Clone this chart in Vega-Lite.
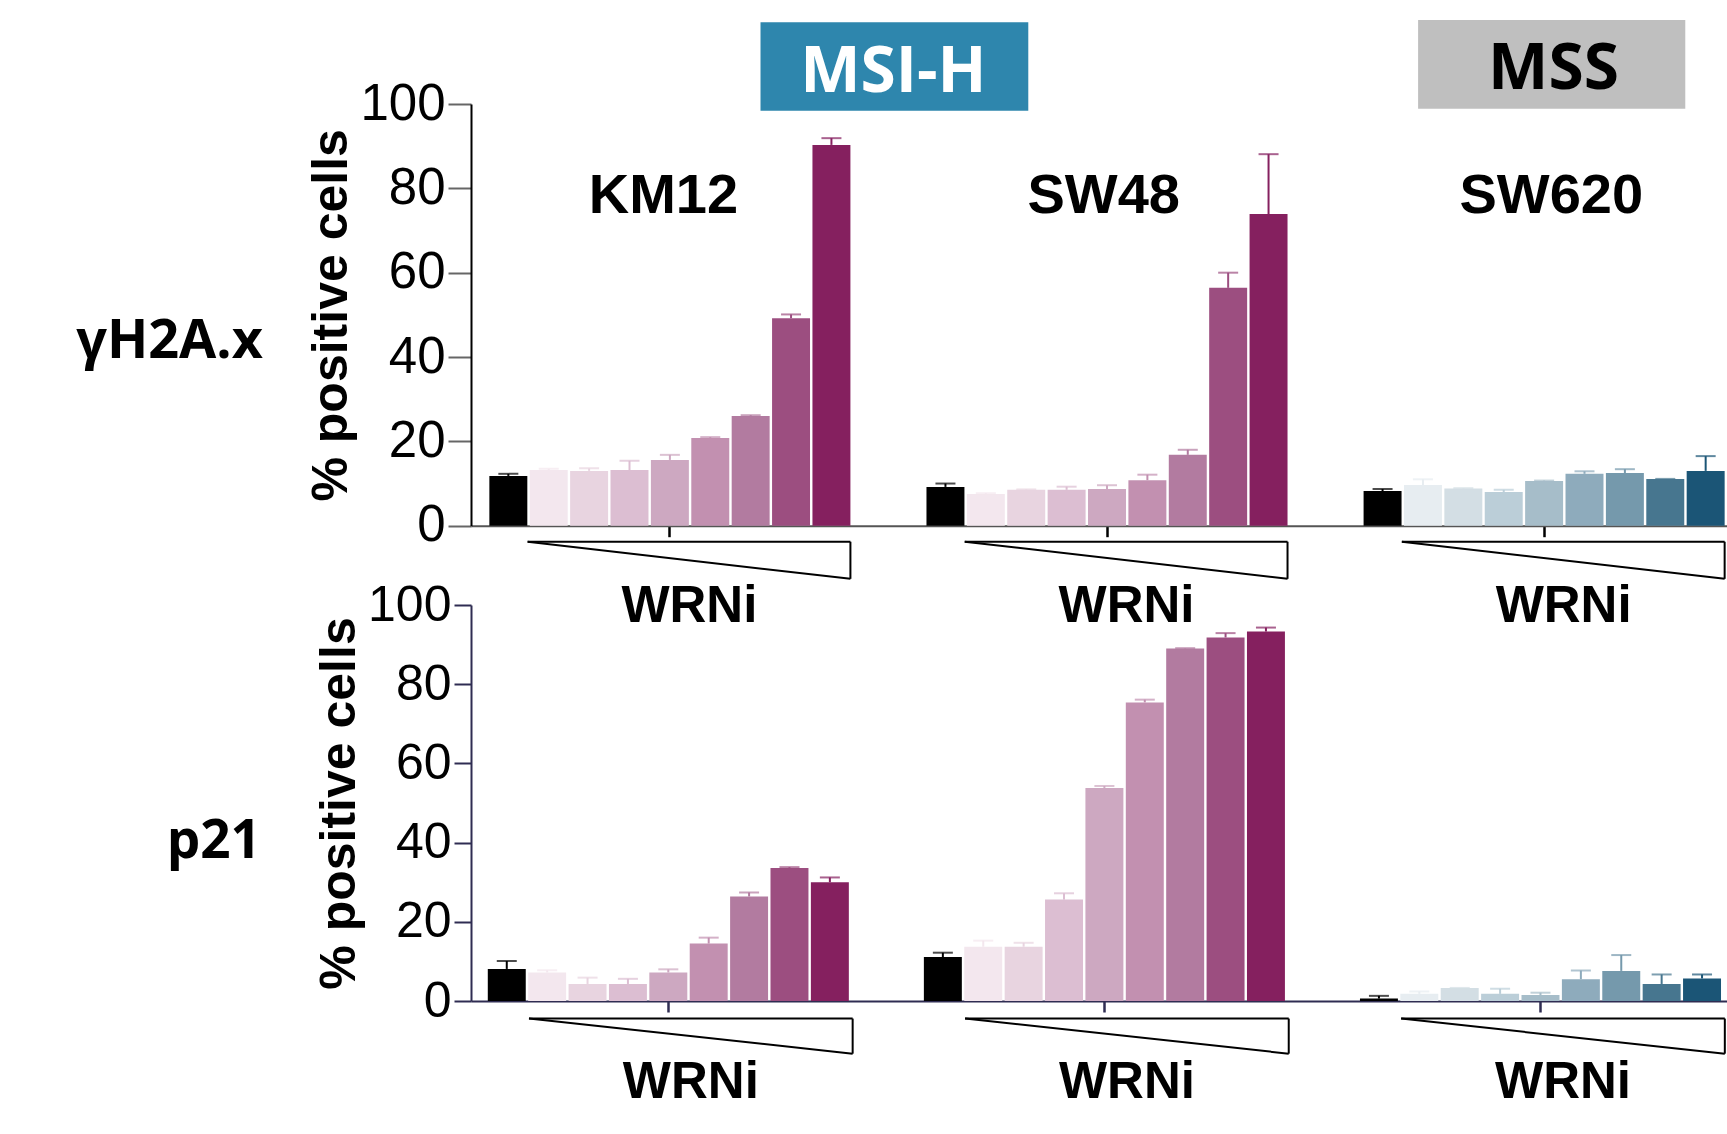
{
  "$schema": "https://vega.github.io/schema/vega-lite/v6.json",
  "background": "white",
  "padding": {"left": 76, "top": 20, "right": 0, "bottom": 0},
  "bounds": "flush",
  "spacing": 79,
  "config": {"view": {"stroke": null}, "axis": {"grid": false}},
  "datasets": {
    "groups": [
      {"line": "KM12", "status": "MSI-H"},
      {"line": "SW48", "status": "MSI-H"},
      {"line": "SW620", "status": "MSS"}
    ],
    "vals": [
      {"marker": "γH2A.x", "line": "KM12", "status": "MSI-H", "dose": "ctrl", "mean": 11.8, "upper": 12.3},
      {"marker": "γH2A.x", "line": "KM12", "status": "MSI-H", "dose": "d1", "mean": 13.2, "upper": 13.5},
      {"marker": "γH2A.x", "line": "KM12", "status": "MSI-H", "dose": "d2", "mean": 13.0, "upper": 13.6},
      {"marker": "γH2A.x", "line": "KM12", "status": "MSI-H", "dose": "d3", "mean": 13.2, "upper": 15.4},
      {"marker": "γH2A.x", "line": "KM12", "status": "MSI-H", "dose": "d4", "mean": 15.6, "upper": 16.8},
      {"marker": "γH2A.x", "line": "KM12", "status": "MSI-H", "dose": "d5", "mean": 20.8, "upper": 21.0},
      {"marker": "γH2A.x", "line": "KM12", "status": "MSI-H", "dose": "d6", "mean": 26.0, "upper": 26.2},
      {"marker": "γH2A.x", "line": "KM12", "status": "MSI-H", "dose": "d7", "mean": 49.2, "upper": 50.1},
      {"marker": "γH2A.x", "line": "KM12", "status": "MSI-H", "dose": "d8", "mean": 90.3, "upper": 91.9},
      {"marker": "γH2A.x", "line": "SW48", "status": "MSI-H", "dose": "ctrl", "mean": 9.2, "upper": 10.0},
      {"marker": "γH2A.x", "line": "SW48", "status": "MSI-H", "dose": "d1", "mean": 7.5, "upper": 7.7},
      {"marker": "γH2A.x", "line": "SW48", "status": "MSI-H", "dose": "d2", "mean": 8.5, "upper": 8.6},
      {"marker": "γH2A.x", "line": "SW48", "status": "MSI-H", "dose": "d3", "mean": 8.5, "upper": 9.25},
      {"marker": "γH2A.x", "line": "SW48", "status": "MSI-H", "dose": "d4", "mean": 8.7, "upper": 9.6},
      {"marker": "γH2A.x", "line": "SW48", "status": "MSI-H", "dose": "d5", "mean": 10.8, "upper": 12.1},
      {"marker": "γH2A.x", "line": "SW48", "status": "MSI-H", "dose": "d6", "mean": 16.8, "upper": 18.0},
      {"marker": "γH2A.x", "line": "SW48", "status": "MSI-H", "dose": "d7", "mean": 56.4, "upper": 60.0},
      {"marker": "γH2A.x", "line": "SW48", "status": "MSI-H", "dose": "d8", "mean": 73.9, "upper": 88.1},
      {"marker": "γH2A.x", "line": "SW620", "status": "MSS", "dose": "ctrl", "mean": 8.2, "upper": 8.7},
      {"marker": "γH2A.x", "line": "SW620", "status": "MSS", "dose": "d1", "mean": 9.65, "upper": 11.0},
      {"marker": "γH2A.x", "line": "SW620", "status": "MSS", "dose": "d2", "mean": 8.8, "upper": 8.9},
      {"marker": "γH2A.x", "line": "SW620", "status": "MSS", "dose": "d3", "mean": 8.0, "upper": 8.5},
      {"marker": "γH2A.x", "line": "SW620", "status": "MSS", "dose": "d4", "mean": 10.6, "upper": 10.7},
      {"marker": "γH2A.x", "line": "SW620", "status": "MSS", "dose": "d5", "mean": 12.3, "upper": 12.9},
      {"marker": "γH2A.x", "line": "SW620", "status": "MSS", "dose": "d6", "mean": 12.5, "upper": 13.4},
      {"marker": "γH2A.x", "line": "SW620", "status": "MSS", "dose": "d7", "mean": 11.1, "upper": 11.1},
      {"marker": "γH2A.x", "line": "SW620", "status": "MSS", "dose": "d8", "mean": 13.0, "upper": 16.5},
      {"marker": "p21", "line": "KM12", "status": "MSI-H", "dose": "ctrl", "mean": 8.1, "upper": 10.1},
      {"marker": "p21", "line": "KM12", "status": "MSI-H", "dose": "d1", "mean": 7.2, "upper": 7.75},
      {"marker": "p21", "line": "KM12", "status": "MSI-H", "dose": "d2", "mean": 4.3, "upper": 5.9},
      {"marker": "p21", "line": "KM12", "status": "MSI-H", "dose": "d3", "mean": 4.3, "upper": 5.6},
      {"marker": "p21", "line": "KM12", "status": "MSI-H", "dose": "d4", "mean": 7.2, "upper": 8.0},
      {"marker": "p21", "line": "KM12", "status": "MSI-H", "dose": "d5", "mean": 14.5, "upper": 16.0},
      {"marker": "p21", "line": "KM12", "status": "MSI-H", "dose": "d6", "mean": 26.4, "upper": 27.4},
      {"marker": "p21", "line": "KM12", "status": "MSI-H", "dose": "d7", "mean": 33.6, "upper": 33.8},
      {"marker": "p21", "line": "KM12", "status": "MSI-H", "dose": "d8", "mean": 30.0, "upper": 31.2},
      {"marker": "p21", "line": "SW48", "status": "MSI-H", "dose": "ctrl", "mean": 11.1, "upper": 12.2},
      {"marker": "p21", "line": "SW48", "status": "MSI-H", "dose": "d1", "mean": 13.7, "upper": 15.25},
      {"marker": "p21", "line": "SW48", "status": "MSI-H", "dose": "d2", "mean": 13.7, "upper": 14.7},
      {"marker": "p21", "line": "SW48", "status": "MSI-H", "dose": "d3", "mean": 25.6, "upper": 27.2},
      {"marker": "p21", "line": "SW48", "status": "MSI-H", "dose": "d4", "mean": 53.8, "upper": 54.3},
      {"marker": "p21", "line": "SW48", "status": "MSI-H", "dose": "d5", "mean": 75.4, "upper": 76.1},
      {"marker": "p21", "line": "SW48", "status": "MSI-H", "dose": "d6", "mean": 89.0, "upper": 89.1},
      {"marker": "p21", "line": "SW48", "status": "MSI-H", "dose": "d7", "mean": 91.8, "upper": 92.9},
      {"marker": "p21", "line": "SW48", "status": "MSI-H", "dose": "d8", "mean": 93.3, "upper": 94.3},
      {"marker": "p21", "line": "SW620", "status": "MSS", "dose": "ctrl", "mean": 0.6, "upper": 1.3},
      {"marker": "p21", "line": "SW620", "status": "MSS", "dose": "d1", "mean": 1.8, "upper": 2.4},
      {"marker": "p21", "line": "SW620", "status": "MSS", "dose": "d2", "mean": 3.3, "upper": 3.3},
      {"marker": "p21", "line": "SW620", "status": "MSS", "dose": "d3", "mean": 1.8, "upper": 3.1},
      {"marker": "p21", "line": "SW620", "status": "MSS", "dose": "d4", "mean": 1.5, "upper": 2.1},
      {"marker": "p21", "line": "SW620", "status": "MSS", "dose": "d5", "mean": 5.5, "upper": 7.7},
      {"marker": "p21", "line": "SW620", "status": "MSS", "dose": "d6", "mean": 7.6, "upper": 11.6},
      {"marker": "p21", "line": "SW620", "status": "MSS", "dose": "d7", "mean": 4.3, "upper": 6.7},
      {"marker": "p21", "line": "SW620", "status": "MSS", "dose": "d8", "mean": 5.7, "upper": 6.7}
    ]
  },
  "vconcat": [
    {
      "width": 1272, "height": 421.7,
      "resolve": {"scale": {"color": "independent"}},
      "layer": [
        {
          "data": {"name": "vals"},
          "transform": [{"filter": "datum.marker === 'γH2A.x' && datum.status === 'MSI-H'"}],
          "encoding": {
            "x": {"field": "line", "type": "nominal", "scale": {"domain": ["KM12","SW48","SW620"], "paddingInner": 0.174, "paddingOuter": 0.042, "round": false},
                  "axis": {"labels": false, "title": null, "domainColor": "#555555", "domainWidth": 2, "tickColor": "black", "tickWidth": 2.5, "tickSize": 11}},
            "xOffset": {"field": "dose", "type": "nominal", "scale": {"domain": ["ctrl","d1","d2","d3","d4","d5","d6","d7","d8"], "paddingInner": 0.06, "paddingOuter": 0, "round": false}},
            "color": {"field": "dose", "type": "nominal", "legend": null, "scale": {"domain": ["ctrl","d1","d2","d3","d4","d5","d6","d7","d8"], "range": ["#000000","#F3E7EE","#E8D4E0","#DCBED2","#CDA8C1","#C290B0","#B27BA0","#9C4E80","#85205F"]}}
          },
          "layer": [
            {"mark": {"type": "bar"},
             "encoding": {"y": {"field": "mean", "type": "quantitative", "scale": {"domain": [0, 100], "nice": false},
                   "axis": {"values": [0,20,40,60,80,100], "title": "% positive cells", "titleFont": "Liberation Sans", "titleFontSize": 50, "titleFontWeight": "bold", "titleColor": "black", "titlePadding": 3,
                            "labelFont": "Liberation Sans", "labelFontSize": 51, "labelColor": "black", "labelPadding": 3, "labelFlush": false, "labelOverlap": false,
                            "domainColor": "black", "domainWidth": 2, "tickColor": "#666666", "tickWidth": 2, "tickSize": 23}}}},
            {"mark": {"type": "rule", "strokeWidth": 2},
             "encoding": {"y": {"field": "mean", "type": "quantitative"}, "y2": {"field": "upper"}}},
            {"mark": {"type": "tick", "thickness": 2, "size": 20},
             "encoding": {"y": {"field": "upper", "type": "quantitative"}}}
          ]
        },
        {
          "data": {"name": "vals"},
          "transform": [{"filter": "datum.marker === 'γH2A.x' && datum.status === 'MSS'"}],
          "encoding": {
            "x": {"field": "line", "type": "nominal"},
            "xOffset": {"field": "dose", "type": "nominal"},
            "color": {"field": "dose", "type": "nominal", "legend": null, "scale": {"domain": ["ctrl","d1","d2","d3","d4","d5","d6","d7","d8"], "range": ["#000000","#E7EDF1","#D3DEE4","#BBCED8","#A6BDC9","#8EABBC","#7599AC","#47768F","#1B5576"]}}
          },
          "layer": [
            {"mark": {"type": "bar"}, "encoding": {"y": {"field": "mean", "type": "quantitative"}}},
            {"mark": {"type": "rule", "strokeWidth": 2},
             "encoding": {"y": {"field": "mean", "type": "quantitative"}, "y2": {"field": "upper"}}},
            {"mark": {"type": "tick", "thickness": 2, "size": 20},
             "encoding": {"y": {"field": "upper", "type": "quantitative"}}}
          ]
        },
        {"data": {"name": "groups"}, "mark": {"type": "rule", "color": "black", "strokeWidth": 2},
         "encoding": {"x": {"field": "line", "type": "nominal", "bandPosition": 0.106}, "x2": {"field": "line", "bandPosition": 1.0}, "y": {"datum": -3.8, "type": "quantitative"}}},
        {"data": {"name": "groups"}, "mark": {"type": "rule", "color": "black", "strokeWidth": 2},
         "encoding": {"x": {"field": "line", "type": "nominal", "bandPosition": 1.0}, "y": {"datum": -3.8, "type": "quantitative"}, "y2": {"datum": -12.6}}},
        {"data": {"name": "groups"}, "mark": {"type": "rule", "color": "black", "strokeWidth": 2},
         "encoding": {"x": {"field": "line", "type": "nominal", "bandPosition": 0.106}, "x2": {"field": "line", "bandPosition": 1.0}, "y": {"datum": -3.8, "type": "quantitative"}, "y2": {"datum": -12.6}}},
        {"data": {"name": "groups"}, "mark": {"type": "text", "text": "WRNi", "font": "Liberation Sans", "fontSize": 51, "fontWeight": "bold", "align": "center", "baseline": "alphabetic", "color": "black"},
         "encoding": {"x": {"field": "line", "type": "nominal", "bandPosition": 0.554}, "y": {"datum": -22.8, "type": "quantitative"}}},
        {"data": {"values": [{}]}, "mark": {"type": "text", "text": "KM12", "font": "Liberation Sans", "fontSize": 56, "fontWeight": "bold", "align": "center", "baseline": "alphabetic", "color": "black"},
         "encoding": {"x": {"datum": "KM12", "type": "nominal", "bandPosition": 0.482}, "y": {"datum": 74.1, "type": "quantitative"}}},
        {"data": {"values": [{}]}, "mark": {"type": "text", "text": "SW48", "font": "Liberation Sans", "fontSize": 56, "fontWeight": "bold", "align": "center", "baseline": "alphabetic", "color": "black"},
         "encoding": {"x": {"datum": "SW48", "type": "nominal", "bandPosition": 0.491}, "y": {"datum": 74.1, "type": "quantitative"}}},
        {"data": {"values": [{}]}, "mark": {"type": "text", "text": "SW620", "font": "Liberation Sans", "fontSize": 56, "fontWeight": "bold", "align": "center", "baseline": "alphabetic", "color": "black"},
         "encoding": {"x": {"datum": "SW620", "type": "nominal", "bandPosition": 0.52}, "y": {"datum": 74.1, "type": "quantitative"}}},
        {"data": {"values": [{}]}, "mark": {"type": "text", "text": "γH2A.x", "font": "Open Sans", "fontSize": 54, "fontWeight": "bold", "align": "right", "baseline": "alphabetic", "color": "black"},
         "encoding": {"x": {"datum": "KM12", "type": "nominal", "bandPosition": -0.627}, "y": {"datum": 39.7, "type": "quantitative"}}},
        {"data": {"values": [{}]}, "mark": {"type": "rect", "color": "#2E86AD"},
         "encoding": {"x": {"datum": "KM12", "type": "nominal", "bandPosition": 0.751}, "x2": {"datum": "SW48", "bandPosition": 0.282}, "y": {"datum": 98.4, "type": "quantitative"}, "y2": {"datum": 119.4}}},
        {"data": {"values": [{}]}, "mark": {"type": "text", "text": "MSI-H", "font": "Open Sans", "fontSize": 64, "fontWeight": "bold", "align": "center", "baseline": "alphabetic", "color": "white"},
         "encoding": {"x": {"datum": "KM12", "type": "nominal", "bandPosition": 1.119}, "y": {"datum": 102.9, "type": "quantitative"}}},
        {"data": {"values": [{}]}, "mark": {"type": "rect", "color": "#BFBFBF"},
         "encoding": {"x": {"datum": "SW620", "type": "nominal", "bandPosition": 0.151}, "x2": {"datum": "SW620", "bandPosition": 0.891}, "y": {"datum": 98.9, "type": "quantitative"}, "y2": {"datum": 119.9}}},
        {"data": {"values": [{}]}, "mark": {"type": "text", "text": "MSS", "font": "Open Sans", "fontSize": 64, "fontWeight": "bold", "align": "center", "baseline": "alphabetic", "color": "black"},
         "encoding": {"x": {"datum": "SW620", "type": "nominal", "bandPosition": 0.526}, "y": {"datum": 103.5, "type": "quantitative"}}}
      ]
    },
    {
      "width": 1267, "height": 396,
      "resolve": {"scale": {"color": "independent"}},
      "layer": [
        {
          "data": {"name": "vals"},
          "transform": [{"filter": "datum.marker === 'p21' && datum.status === 'MSI-H'"}],
          "encoding": {
            "x": {"field": "line", "type": "nominal", "scale": {"domain": ["KM12","SW48","SW620"], "paddingInner": 0.1716, "paddingOuter": 0.0385, "round": false},
                  "axis": {"labels": false, "title": null, "domainColor": "#2F2C52", "domainWidth": 2, "tickColor": "#2F2C52", "tickWidth": 2.5, "tickSize": 11}},
            "xOffset": {"field": "dose", "type": "nominal", "scale": {"domain": ["ctrl","d1","d2","d3","d4","d5","d6","d7","d8"], "paddingInner": 0.06, "paddingOuter": 0, "round": false}},
            "color": {"field": "dose", "type": "nominal", "legend": null, "scale": {"domain": ["ctrl","d1","d2","d3","d4","d5","d6","d7","d8"], "range": ["#000000","#F3E7EE","#E8D4E0","#DCBED2","#CDA8C1","#C290B0","#B27BA0","#9C4E80","#85205F"]}}
          },
          "layer": [
            {"mark": {"type": "bar"},
             "encoding": {"y": {"field": "mean", "type": "quantitative", "scale": {"domain": [0, 100], "nice": false},
                   "axis": {"values": [0,20,40,60,80,100], "title": "% positive cells", "titleFont": "Liberation Sans", "titleFontSize": 50, "titleFontWeight": "bold", "titleColor": "black", "titlePadding": 3,
                            "labelFont": "Liberation Sans", "labelFontSize": 50, "labelColor": "black", "labelPadding": 3, "labelFlush": false, "labelOverlap": false,
                            "domainColor": "#2F2C52", "domainWidth": 2, "tickColor": "#2F2C52", "tickWidth": 2, "tickSize": 17}}}},
            {"mark": {"type": "rule", "strokeWidth": 2},
             "encoding": {"y": {"field": "mean", "type": "quantitative"}, "y2": {"field": "upper"}}},
            {"mark": {"type": "tick", "thickness": 2, "size": 20},
             "encoding": {"y": {"field": "upper", "type": "quantitative"}}}
          ]
        },
        {
          "data": {"name": "vals"},
          "transform": [{"filter": "datum.marker === 'p21' && datum.status === 'MSS'"}],
          "encoding": {
            "x": {"field": "line", "type": "nominal"},
            "xOffset": {"field": "dose", "type": "nominal"},
            "color": {"field": "dose", "type": "nominal", "legend": null, "scale": {"domain": ["ctrl","d1","d2","d3","d4","d5","d6","d7","d8"], "range": ["#000000","#E7EDF1","#D3DEE4","#BBCED8","#A6BDC9","#8EABBC","#7599AC","#47768F","#1B5576"]}}
          },
          "layer": [
            {"mark": {"type": "bar"}, "encoding": {"y": {"field": "mean", "type": "quantitative"}}},
            {"mark": {"type": "rule", "strokeWidth": 2},
             "encoding": {"y": {"field": "mean", "type": "quantitative"}, "y2": {"field": "upper"}}},
            {"mark": {"type": "tick", "thickness": 2, "size": 20},
             "encoding": {"y": {"field": "upper", "type": "quantitative"}}}
          ]
        },
        {"data": {"name": "groups"}, "mark": {"type": "rule", "color": "black", "strokeWidth": 2},
         "encoding": {"x": {"field": "line", "type": "nominal", "bandPosition": 0.114}, "x2": {"field": "line", "bandPosition": 1.01}, "y": {"datum": -4.44, "type": "quantitative"}}},
        {"data": {"name": "groups"}, "mark": {"type": "rule", "color": "black", "strokeWidth": 2},
         "encoding": {"x": {"field": "line", "type": "nominal", "bandPosition": 1.01}, "y": {"datum": -4.44, "type": "quantitative"}, "y2": {"datum": -13.3}}},
        {"data": {"name": "groups"}, "mark": {"type": "rule", "color": "black", "strokeWidth": 2},
         "encoding": {"x": {"field": "line", "type": "nominal", "bandPosition": 0.114}, "x2": {"field": "line", "bandPosition": 1.01}, "y": {"datum": -4.44, "type": "quantitative"}, "y2": {"datum": -13.3}}},
        {"data": {"name": "groups"}, "mark": {"type": "text", "text": "WRNi", "font": "Liberation Sans", "fontSize": 51, "fontWeight": "bold", "align": "center", "baseline": "alphabetic", "color": "black"},
         "encoding": {"x": {"field": "line", "type": "nominal", "bandPosition": 0.562}, "y": {"datum": -24.6, "type": "quantitative"}}},
        {"data": {"values": [{}]}, "mark": {"type": "text", "text": "p21", "font": "Open Sans", "fontSize": 53, "fontWeight": "bold", "align": "right", "baseline": "alphabetic", "color": "black"},
         "encoding": {"x": {"datum": "KM12", "type": "nominal", "bandPosition": -0.628}, "y": {"datum": 36.0, "type": "quantitative"}}}
      ]
    }
  ]
}
